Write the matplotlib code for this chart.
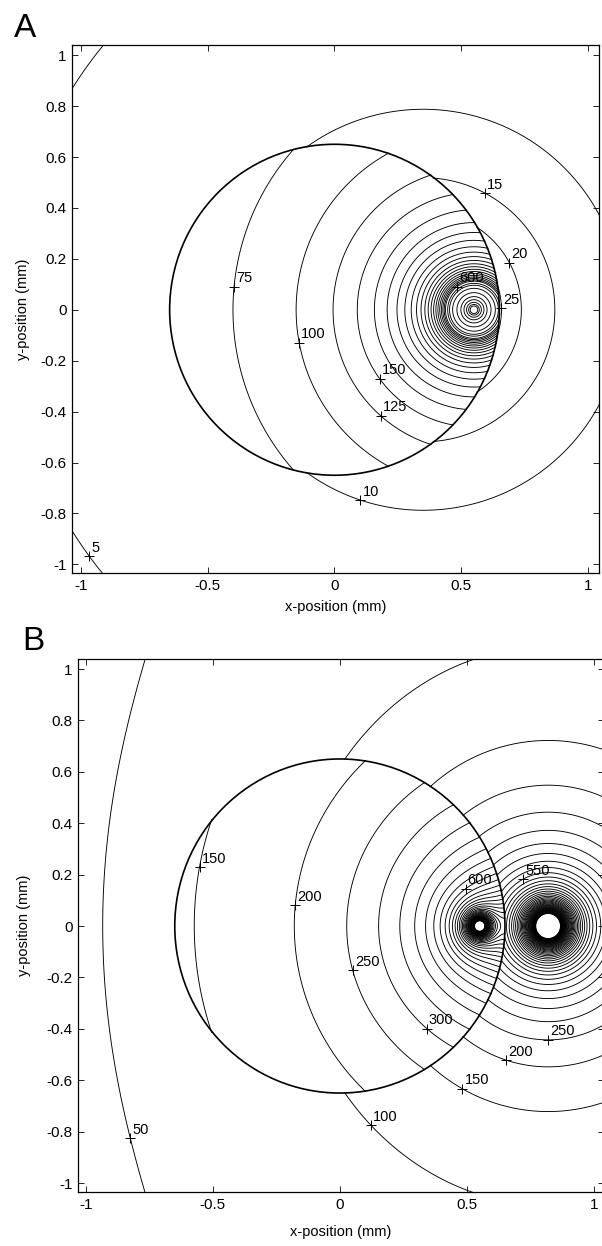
import numpy as np
import matplotlib
matplotlib.use("Agg")
import matplotlib.pyplot as plt
from matplotlib.ticker import FormatStrFormatter

plt.rcParams['font.family'] = ['Liberation Sans', 'DejaVu Sans']
plt.rcParams['axes.unicode_minus'] = False

# region boundary (mm)
circle_radius = 0.65

# panel A: one source, field inside / outside the circle
a_src_in = [(0.55, 0.0)]
a_gain_in = [66.9]
a_offset_in = 4.6
a_src_out = [(0.35, 0.0)]
a_gain_out = [7.6]
a_offset_out = 0.35
a_levels = ([5, 10, 15, 20, 25] + list(range(50, 625, 25))
            + [650, 700, 800, 1000, 1300, 1700, 2300, 3200, 4500])
# (level, region, approx x, approx y)
a_labels = [(75, 'in', -0.385, 0.09), (100, 'in', -0.14, -0.13),
            (150, 'in', 0.18, -0.27), (125, 'in', 0.18, -0.42),
            (600, 'in', 0.49, 0.08), (15, 'out', 0.585, 0.44),
            (20, 'out', 0.69, 0.185), (25, 'out', 0.685, 0.005),
            (10, 'out', 0.10, -0.755), (5, 'out', -0.955, -0.96)]

# panel B: two sources
b_src_in = [(0.55, 0.0), (0.82, 0.0)]
b_gain_in = [40.0, 108.8]
b_offset_in = 36.3
b_src_out = [(0.82, 0.0)]
b_gain_out = [117.5]
b_offset_out = -17.0
b_stretch_out = (0.065, 2.8)
b_levels = list(range(50, 2450, 50))
b_labels = [(150, 'in', -0.55, 0.23), (200, 'in', -0.18, 0.08),
            (250, 'in', 0.06, -0.17), (300, 'in', 0.35, -0.39),
            (600, 'in', 0.50, 0.14), (550, 'out', 0.72, 0.19),
            (250, 'out', 0.82, -0.45), (200, 'out', 0.65, -0.54),
            (150, 'out', 0.48, -0.64), (100, 'out', 0.17, -0.73),
            (50, 'out', -0.85, -0.83)]

xticks = [-1, -0.5, 0, 0.5, 1]
yticks = [-1, -0.8, -0.6, -0.4, -0.2, 0, 0.2, 0.4, 0.6, 0.8, 1]

g = np.linspace(-1.06, 1.06, 849)
X, Y = np.meshgrid(g, g)
R = np.hypot(X, Y)


def field(srcs, gains, offset, stretch=(0.0, 2.0)):
    V = np.full(X.shape, float(offset))
    k_s, p_s = stretch
    for (sx, sy), k in zip(srcs, gains):
        dx, dy = X - sx, Y - sy
        s = 1 + k_s * np.hypot(dx, dy) ** p_s
        d = np.maximum(np.hypot(dx, dy / s), 1e-3)
        V += k / d
    return V


def draw_panel(ax, v_in, v_out, levels, labels, xlim, ylim):
    f_in = np.ma.masked_where(R > circle_radius + 0.004, v_in)
    f_out = np.ma.masked_where(R < circle_radius - 0.004, v_out)
    cs_in = ax.contour(X, Y, f_in, levels=levels, colors='k', linewidths=0.65)
    cs_out = ax.contour(X, Y, f_out, levels=levels, colors='k', linewidths=0.65)
    ax.add_patch(plt.Circle((0, 0), circle_radius, fill=False, lw=1.2, color='k'))
    for lev, where, lx, ly in labels:
        cs = cs_in if where == 'in' else cs_out
        i = list(cs.levels).index(lev)
        segs = [s for s in cs.allsegs[i] if len(s)]
        pts = np.vstack(segs)
        j = np.argmin(np.hypot(pts[:, 0] - lx, pts[:, 1] - ly))
        px, py = pts[j]
        ax.plot(px, py, '+', color='k', ms=7, mew=0.7)
        ax.annotate(str(lev), (px, py), xytext=(1.5, 1), textcoords='offset points',
                    ha='left', va='bottom', fontsize=10.5)
    ax.set_xlim(*xlim)
    ax.set_ylim(*ylim)
    ax.set_xticks(xticks)
    ax.set_yticks(yticks)
    ax.xaxis.set_major_formatter(FormatStrFormatter('%g'))
    ax.yaxis.set_major_formatter(FormatStrFormatter('%g'))
    ax.tick_params(direction='in', top=True, right=True, length=4, width=0.6,
                   labelsize=11, pad=4)
    for s in ax.spines.values():
        s.set_linewidth(0.9)
    ax.set_xlabel('x-position (mm)', fontsize=10.5)
    ax.set_ylabel('y-position (mm)', fontsize=10.5)


fig = plt.figure(figsize=(6.02, 12.46), dpi=100)
axA = fig.add_axes([72 / 602, 1 - 573 / 1246, 527 / 602, 528 / 1246])
axB = fig.add_axes([78 / 602, 1 - 1192 / 1246, 526 / 602, 533 / 1246])

draw_panel(axA, field(a_src_in, a_gain_in, a_offset_in),
           field(a_src_out, a_gain_out, a_offset_out),
           a_levels, a_labels, (-1.035, 1.043), (-1.034, 1.04))
draw_panel(axB, field(b_src_in, b_gain_in, b_offset_in),
           field(b_src_out, b_gain_out, b_offset_out, b_stretch_out),
           b_levels, b_labels, (-1.031, 1.04), (-1.035, 1.039))

axA.xaxis.set_label_coords(0.5, -0.051)
axA.yaxis.set_label_coords(-0.08, 0.5)
axB.xaxis.set_label_coords(0.5, -0.062)
axB.yaxis.set_label_coords(-0.09, 0.5)

fig.text(14 / 602, 1 - 37 / 1246, 'A', fontsize=24, ha='left', va='baseline')
fig.text(22 / 602, 1 - 650 / 1246, 'B', fontsize=24, ha='left', va='baseline')

fig.savefig('out.png', dpi=100)
